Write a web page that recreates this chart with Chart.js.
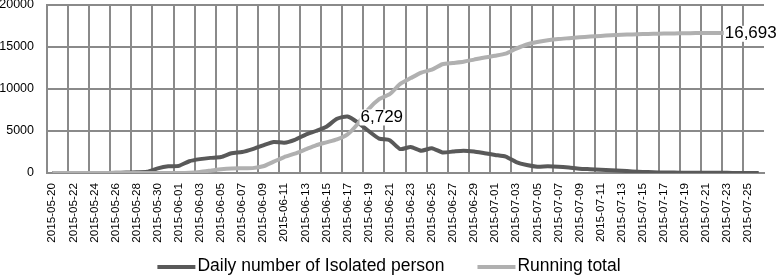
<!DOCTYPE html>
<html>
<head>
<meta charset="utf-8">
<script src="https://cdn.jsdelivr.net/npm/chart.js@4/dist/chart.umd.min.js"></script>
<style>
html,body{margin:0;padding:0;background:#fff;}
#wrap{width:778px;height:277px;position:relative;}
</style>
</head>
<body>
<div id="wrap"><canvas id="c"></canvas></div>
<script>
// ---- data ----
const categories = [
  '2015-05-20','2015-05-21','2015-05-22','2015-05-23','2015-05-24','2015-05-25','2015-05-26','2015-05-27',
  '2015-05-28','2015-05-29','2015-05-30','2015-05-31','2015-06-01','2015-06-02','2015-06-03','2015-06-04',
  '2015-06-05','2015-06-06','2015-06-07','2015-06-08','2015-06-09','2015-06-10','2015-06-11','2015-06-12',
  '2015-06-13','2015-06-14','2015-06-15','2015-06-16','2015-06-17','2015-06-18','2015-06-19','2015-06-20',
  '2015-06-21','2015-06-22','2015-06-23','2015-06-24','2015-06-25','2015-06-26','2015-06-27','2015-06-28',
  '2015-06-29','2015-06-30','2015-07-01','2015-07-02','2015-07-03','2015-07-04','2015-07-05','2015-07-06',
  '2015-07-07','2015-07-08','2015-07-09','2015-07-10','2015-07-11','2015-07-12','2015-07-13','2015-07-14',
  '2015-07-15','2015-07-16','2015-07-17','2015-07-18','2015-07-19','2015-07-20','2015-07-21','2015-07-22',
  '2015-07-23','2015-07-24','2015-07-25','2015-07-26'
];
const dailyIsolated = [
  0, 0, 0, 0, 0, 0, 20, 60,
  90, 150, 550, 800, 850, 1400, 1650, 1800,
  1900, 2350, 2500, 2850, 3300, 3700, 3600, 3950,
  4550, 5000, 5500, 6450, 6729, 6000, 5000, 4100,
  3900, 2850, 3100, 2650, 2950, 2450, 2550, 2650,
  2550, 2350, 2150, 1950, 1300, 950, 750, 800,
  750, 650, 520, 460, 400, 340, 270, 190,
  130, 90, 60, 45, 35, 30, 25, 20,
  15, 12, 10, 8
];
const runningTotal = [
  0, 0, 0, 0, 0, 0, 0, 0,
  0, 0, 0, 0, 0, 30, 120, 280,
  450, 550, 560, 580, 800, 1350, 1900, 2300,
  2800, 3300, 3650, 4000, 4600, 5900, 7600, 8800,
  9400, 10600, 11300, 11950, 12300, 12950, 13100, 13250,
  13500, 13750, 13950, 14200, 14800, 15300, 15600, 15800,
  15950, 16050, 16150, 16250, 16320, 16400, 16450, 16500,
  16540, 16570, 16600, 16620, 16640, 16655, 16665, 16675,
  16683, 16688, 16691, 16693
];
const seriesNames = ['Daily number of Isolated person', 'Running total'];
const yTickValues = [0, 5000, 10000, 15000, 20000];

// ---- style ----
const FONT = "'Liberation Sans', Arial, Helvetica, sans-serif";
const GRID = '#8a8a8a';
const DARK = '#595959';
const LIGHT = '#b0b0b0';

Chart.defaults.font.family = FONT;
Chart.defaults.color = '#000';

const valueLabels = {
  id: 'valueLabels',
  afterDatasetsDraw(chart, args, opts) {
    const ctx = chart.ctx;
    opts.items.forEach(it => {
      const pt = chart.getDatasetMeta(it.series).data[it.index];
      const v = chart.data.datasets[it.series].data[it.index];
      const text = v.toLocaleString('en-US');
      ctx.save();
      ctx.font = opts.font;
      const w = ctx.measureText(text).width;
      const x = it.align === 'right' ? pt.x + it.dx - w : pt.x + it.dx;
      const y = pt.y + it.dy;
      ctx.fillStyle = '#fff';
      ctx.fillRect(x - 1, y - 8, w + 2, 16);
      ctx.fillStyle = '#000';
      ctx.textBaseline = 'middle';
      ctx.textAlign = 'left';
      ctx.fillText(text, x, y);
      ctx.restore();
    });
  }
};

const bottomLegend = {
  id: 'bottomLegend',
  afterDraw(chart, args, opts) {
    const ctx = chart.ctx;
    ctx.save();
    ctx.font = opts.font;
    const items = chart.data.datasets.map(d => ({
      label: d.label, color: d.borderColor, w: ctx.measureText(d.label).width
    }));
    const total = items.reduce((s, it) => s + opts.sample + opts.gap + it.w, 0) + opts.spacing * (items.length - 1);
    let x = chart.width / 2 - total / 2;
    items.forEach(it => {
      ctx.strokeStyle = it.color;
      ctx.lineWidth = opts.lineWidth;
      ctx.beginPath();
      ctx.moveTo(x, opts.y + 1);
      ctx.lineTo(x + opts.sample, opts.y + 1);
      ctx.stroke();
      ctx.fillStyle = '#000';
      ctx.textBaseline = 'middle';
      ctx.textAlign = 'left';
      ctx.fillText(it.label, x + opts.sample + opts.gap, opts.y);
      x += opts.sample + opts.gap + it.w + opts.spacing;
    });
    ctx.restore();
  }
};

new Chart(document.getElementById('c'), {
  type: 'line',
  data: {
    labels: categories,
    datasets: [
      { label: seriesNames[0], data: dailyIsolated, borderColor: DARK, backgroundColor: DARK,
        borderWidth: 4, pointRadius: 0, tension: 0.2, order: 1 },
      { label: seriesNames[1], data: runningTotal, borderColor: LIGHT, backgroundColor: LIGHT,
        borderWidth: 4, pointRadius: 0, tension: 0.2, order: 0 }
    ]
  },
  options: {
    responsive: true,
    maintainAspectRatio: false,
    devicePixelRatio: 1,
    animation: false,
    events: [],
    layout: { padding: { top: 5, right: 14, bottom: 34, left: 0 } },
    plugins: {
      legend: { display: false },
      tooltip: { enabled: false },
      valueLabels: {
        font: '17px ' + FONT,
        items: [
          { series: 0, index: 28, align: 'left', dx: 13, dy: 1 },
          { series: 1, index: 67, align: 'right', dx: 18, dy: 1 }
        ]
      },
      bottomLegend: { font: '17.5px ' + FONT, y: 266, sample: 38, gap: 2, spacing: 33, lineWidth: 4 }
    },
    scales: {
      x: {
        type: 'category',
        offset: true,
        grid: {
          offset: true,
          drawTicks: false,
          lineWidth: 2,
          color: ctx => (ctx.index % 2 === 0 ? GRID : 'rgba(0,0,0,0)')
        },
        border: { display: true, color: GRID, width: 2 },
        ticks: {
          autoSkip: false,
          minRotation: 90,
          maxRotation: 90,
          padding: 10,
          font: { size: 11.7 },
          color: '#000',
          callback: function (v, i) { return i % 2 === 0 ? this.getLabelForValue(v) : ''; }
        },
        afterFit: s => { s.height = 70; s.paddingLeft = 0; s.paddingRight = 0; }
      },
      y: {
        min: 0,
        max: 20000,
        afterBuildTicks: s => { s.ticks = yTickValues.map(v => ({ value: v })); },
        grid: { drawTicks: false, lineWidth: 2, color: GRID },
        border: { display: true, color: GRID, width: 2 },
        ticks: { padding: 13, font: { size: 12.5 }, color: '#000', callback: v => String(v) },
        afterFit: s => { s.width = 47; s.paddingTop = 0; s.paddingBottom = 0; }
      }
    }
  },
  plugins: [valueLabels, bottomLegend]
});
</script>
</body>
</html>
